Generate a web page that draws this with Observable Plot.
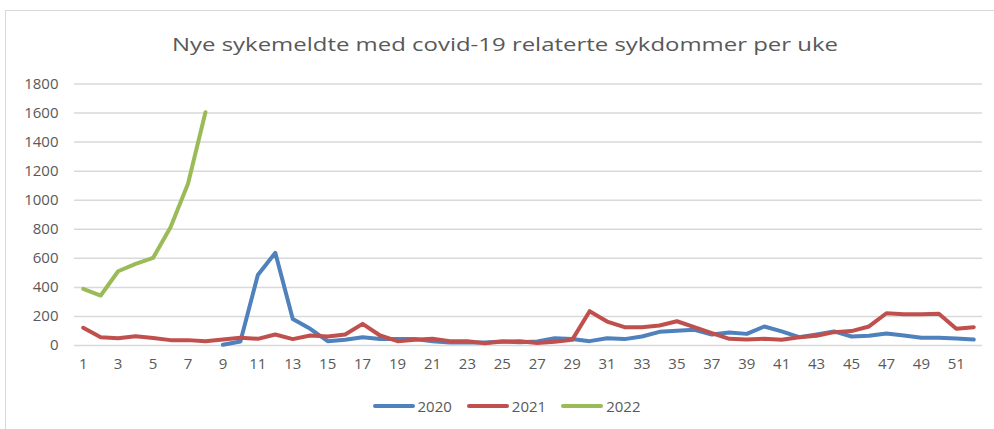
<!DOCTYPE html>
<html>
<head>
<meta charset="utf-8">
<script src="https://cdn.jsdelivr.net/npm/d3@7"></script>
<script src="https://cdn.jsdelivr.net/npm/@observablehq/plot@0.6"></script>
<style>
  html, body { margin: 0; padding: 0; background: #fff; width: 994px; height: 429px; overflow: hidden; }
  body { position: relative; font-family: "Open Sans", sans-serif; }
  #frame { position: absolute; left: 5px; top: 10px; width: 1000px; height: 430px; border: 1px solid #d9d9d9; box-sizing: border-box; pointer-events: none; }
  #title { position: absolute; top: 31px; left: 505px; font-size: 19px; color: #595959; white-space: nowrap; transform-origin: 0 50%; }
  #chart { position: absolute; left: 0; top: 70px; }
  #legend { position: absolute; top: 396px; left: 0; width: 1012px; display: flex; justify-content: center; gap: 14px; font-size: 15px; color: #595959; }
  .item { display: flex; align-items: center; gap: 2px; }
</style>
</head>
<body>
<div id="chart"></div>
<div id="title">Nye sykemeldte med covid-19 relaterte sykdommer per uke</div>
<div id="legend"></div>
<div id="frame"></div>
<script>
const weeks = d3.range(1, 53);
const xTickLabels = [1,3,5,7,9,11,13,15,17,19,21,23,25,27,29,31,33,35,37,39,41,43,45,47,49,51];
const yTickLabels = [0,200,400,600,800,1000,1200,1400,1600,1800];
const seriesNames = ["2020", "2021", "2022"];
const seriesColors = ["#4f81bd", "#c0504d", "#9bbb59"];

const values2020 = [null,null,null,null,null,null,null,null,
  5,28,486,638,183,115,30,39,57,44,44,44,30,21,21,21,27,23,27,50,44,30,
  50,44,62,94,101,108,76,90,80,131,97,57,76,97,62,67,83,69,53,53,48,41];
const values2021 = [122,57,50,64,52,37,37,30,41,53,46,76,44,69,62,76,149,69,30,39,
  46,30,30,16,27,30,18,25,39,236,165,126,126,138,167,126,85,46,41,46,
  39,57,67,92,99,131,222,215,215,218,115,126];
const values2022 = [390,344,511,562,603,814,1113,1606];

const seriesValues = [values2020, values2021, values2022];
const rows = [];
seriesNames.forEach((name, i) => {
  seriesValues[i].forEach((v, j) => rows.push({series: name, week: weeks[j], value: v}));
});

const chart = Plot.plot({
  width: 994,
  height: 310,
  marginLeft: 74,
  marginRight: 12,
  marginTop: 13.5,
  marginBottom: 35,
  style: {fontFamily: "'Open Sans', sans-serif", fontSize: "15px"},
  x: {type: "point", domain: weeks, padding: 0.5, round: false, label: null},
  y: {domain: [0, 1800], label: null},
  color: {domain: seriesNames, range: seriesColors},
  marks: [
    Plot.ruleY(yTickLabels, {stroke: "#d9d9d9", strokeWidth: 1.5}),
    Plot.axisY({ticks: yTickLabels, tickFormat: d => String(d), tickSize: 0, tickPadding: 16, fontSize: 15, fill: "#595959", label: null}),
    Plot.axisX({ticks: xTickLabels, tickFormat: d => String(d), tickSize: 0, tickPadding: 13, fontSize: 15, fill: "#595959", label: null}),
    Plot.line(rows, {x: "week", y: "value", z: "series", stroke: "series", strokeWidth: 4, strokeLinecap: "round", strokeLinejoin: "round"})
  ]
});
document.getElementById("chart").appendChild(chart);

// stretch title horizontally to the reference width, centred at x = 505
const title = document.getElementById("title");
const w = title.getBoundingClientRect().width;
const s = 666 / w;
title.style.transform = `translateX(${-333}px) scaleX(${s})`;

const legend = document.getElementById("legend");
seriesNames.forEach((name, i) => {
  const item = document.createElement("div");
  item.className = "item";
  item.innerHTML = `<svg width="44" height="8"><line x1="3" y1="4" x2="41" y2="4" stroke="${seriesColors[i]}" stroke-width="4" stroke-linecap="round"/></svg><span>${name}</span>`;
  legend.appendChild(item);
});
</script>
</body>
</html>
